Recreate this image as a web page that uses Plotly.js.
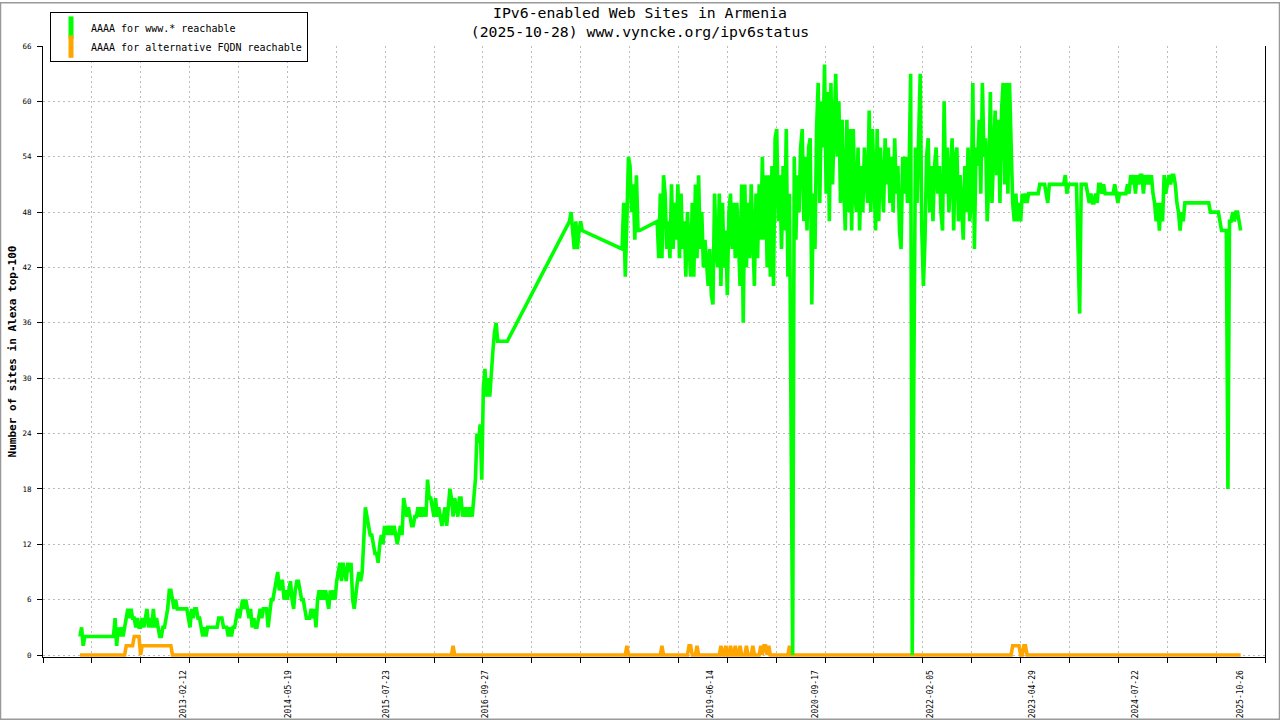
<!DOCTYPE html>
<html><head><meta charset="utf-8">
<script src="https://cdn.plot.ly/plotly-3.0.1.min.js"></script>
<style>html,body{margin:0;padding:0;background:#fff}#chart{width:1280px;height:720px}</style>
</head><body><div id="chart"></div>
<script>
// ---- data ----
const chartTitle = 'IPv6-enabled Web Sites in Armenia<br>(2025-10-28) www.vyncke.org/ipv6status';
const yTitle = 'Number of sites in Alexa top-100';
const seriesNames = ['AAAA for www.* reachable', 'AAAA for alternative FQDN reachable'];
const firstSample = '2011-11-15';   // date of sample index 0
const sampleStepDays = 7;           // one sample per week
// weekly samples: AAAA for www.* reachable (null = no data)
const wwwReachable = [
 2,3,1,2,2,2,2,2,2,2,
 2,2,2,2,2,2,2,2,2,2,
 2,2,4,1,3,2,3,2,3,4,
 5,4,5,4,4,3,4,3,3,4,
 3,4,5,3,4,3,5,3,4,3,
 2,2,3,3,4,5,7,7,6,5,
 6,5,5,5,5,5,5,5,4,3,
 5,4,5,5,4,4,3,2,3,2,
 3,3,3,3,3,3,3,4,4,4,
 3,3,3,2,3,2,3,3,4,5,
 4,5,6,5,6,5,4,5,3,4,
 3,3,4,5,4,5,5,5,3,5,
 6,6,7,8,9,7,8,8,6,7,
 6,7,8,6,5,7,8,8,7,6,
 6,5,4,4,4,5,4,5,3,6,
 7,6,7,6,7,6,5,7,6,7,
 6,8,9,10,8,10,9,8,10,9,
 10,6,5,7,8,9,8,9,13,16,
 15,14,13,13,12,11,11,10,12,13,
 12,14,13,14,13,14,13,14,13,12,
 13,14,13,17,16,15,16,15,14,14,
 15,15,16,15,16,15,16,15,19,17,
 17,16,15,17,15,16,15,14,15,16,
 14,16,18,17,15,17,16,15,17,17,
 15,16,15,16,15,16,15,17,19,24,
 23,25,19,29,31,28,30,28,31,33,
 35,36,34,34,34,34,34,34,34,null,
 null,null,null,null,null,null,null,null,null,null,
 null,null,null,null,null,null,null,null,null,null,
 null,null,null,null,null,null,null,null,null,null,
 null,null,null,null,null,null,null,47,48,46,
 44,47,44,46,47,46,null,null,null,null,
 null,null,null,null,null,null,null,null,null,null,
 null,null,null,null,null,null,null,null,null,null,
 44,49,41,47,54,53,48,51,45,52,
 46,46,null,null,null,null,null,null,null,null,
 null,null,47,43,50,43,52,50,44,47,
 43,51,44,49,45,51,43,50,44,47,
 41,48,44,41,49,41,51,43,52,44,
 48,42,45,43,40,44,39,38,50,44,
 42,50,40,49,42,46,39,48,50,44,
 49,43,49,45,40,51,36,51,42,49,
 43,51,45,40,50,43,51,45,54,45,
 52,42,52,41,53,40,56,57,47,52,
 44,53,46,57,41,50,25,0,54,45,
 52,48,55,57,47,54,46,55,56,38,
 50,44,57,62,49,60,55,64,50,61,
 47,62,51,58,63,54,60,49,58,51,
 46,58,48,57,46,57,50,48,55,46,
 53,48,55,52,49,59,48,57,50,46,
 57,47,55,51,48,56,51,55,49,54,
 48,56,50,53,46,44,54,50,54,49,
 52,63,0,30,55,49,56,63,46,40,
 45,54,56,48,53,47,53,55,50,53,
 48,46,60,50,55,48,52,56,46,54,
 55,47,52,49,45,53,48,55,47,49,
 62,44,55,53,58,50,62,54,56,47,
 51,61,49,54,59,52,58,49,59,62,
 51,62,50,62,55,49,47,50,47,49,
 47,50,49,50,49,50,50,50,50,50,
 50,50,51,51,51,51,50,49,51,51,
 51,51,51,51,51,51,51,51,52,50,
 51,51,51,51,51,51,44,37,51,51,
 51,51,50,49,50,49,49,50,49,51,
 51,50,51,50,50,50,50,50,50,51,
 50,49,50,50,50,50,50,51,50,52,
 51,52,50,52,51,52,52,50,52,51,
 52,51,52,50,49,47,49,46,49,47,
 52,50,51,52,51,52,52,51,49,48,
 46,48,47,49,49,49,49,49,49,49,
 49,49,49,49,49,49,49,49,49,48,
 48,48,48,48,48,47,46,46,46,46,
 18,47,47,48,47,48,48,47,46
];
// AAAA for alternative FQDN reachable: sample index -> value (change points)
const altIdx = [0,28,29,33,34,37,38,39,57,58,
 233,234,235, 342,343,344, 364,365,366, 381,382,383,384, 386,387,388,
 401,402,403, 404,405,406, 407,408,409, 410,411,412, 413,414,415,
 417,418,419, 421,422,423, 426,427,428,429,430,431,432,433,
 444,445,446, 584,585,589,590,591,592,593,594, 728];
const altVals = [0,0,1,1,2,2,0,1,1,0,
 0,1,0, 0,1,0, 0,1,0, 0,1,1,0, 0,1,0,
 0,1,0, 0,1,0, 0,1,0, 0,1,0, 0,1,0,
 0,1,0, 0,1,0, 0,1,0,1,1,0,1,0,
 0,1,0, 0,1,1,0,0,1,1,0, 0];
const xLabelDates = ['2013-02-12','2014-05-19','2015-07-23','2016-09-27','2019-06-14',
 '2020-09-17','2022-02-05','2023-04-29','2024-07-22','2025-10-26'];
const xLabelTexts = xLabelDates.slice();
const yTickVals = [0,6,12,18,24,30,36,42,48,54,60,66];
const yMax = 66;
const xRange = ['2011-06-05 13:00:00', '2026-02-11 19:00:00'];
const xDivisions = 25;

// ---- helpers ----
const DAY = 86400000;
const t0 = Date.parse(firstSample + 'T00:00:00Z');
function fmt(ms){ return new Date(ms).toISOString().slice(0,19).replace('T',' '); }
function idxDate(i){ return fmt(t0 + i * sampleStepDays * DAY); }

const wwwX = wwwReachable.map((v,i) => idxDate(i));
const altX = altIdx.map(idxDate);

const r0 = Date.parse(xRange[0].replace(' ','T') + 'Z');
const r1 = Date.parse(xRange[1].replace(' ','T') + 'Z');
const gridTicks = [];
for (let k = 0; k <= xDivisions; k++) gridTicks.push(fmt(r0 + k * (r1 - r0) / xDivisions));

const GREEN = '#00ff00', ORANGE = '#ffa500';
const MONO = 'DejaVu Sans Mono, Liberation Mono, monospace';

const M = {l:43, r:15, t:44, b:63};
const PW = 1280 - M.l - M.r, PH = 720 - M.t - M.b;
// keep the value 0 two pixels above the frame bottom so the zero line is not clipped
const pxPerUnit = (PH - 2) / yMax;
const yMin = -2 / pxPerUnit;

const traces = [
  {x: altX, y: altVals, type:'scatter', mode:'lines', line:{color:ORANGE, width:3.6},
   showlegend:false, hoverinfo:'skip'},
  {x: wwwX, y: wwwReachable, type:'scatter', mode:'lines', connectgaps:true,
   line:{color:GREEN, width:3.6}, showlegend:false, hoverinfo:'skip'},
  {x:[null], y:[null], type:'scatter', mode:'markers', name: seriesNames[0], xaxis:'x2',
   marker:{symbol:'line-ns-open', size:16, color:GREEN, line:{width:5, color:GREEN}}},
  {x:[null], y:[null], type:'scatter', mode:'markers', name: seriesNames[1], xaxis:'x2',
   marker:{symbol:'line-ns-open', size:16, color:ORANGE, line:{width:5, color:ORANGE}}}
];

const layout = {
  width:1280, height:720, autosize:false,
  margin:{l:M.l, r:M.r, t:M.t, b:M.b, pad:0},
  paper_bgcolor:'#fff', plot_bgcolor:'#fff',
  font:{family:MONO, color:'#000'},
  title:{text:chartTitle, x:0.5, xanchor:'center', xref:'container', y:1-18/720, yanchor:'top', yref:'container',
         font:{family:MONO, size:14.8, color:'#000'}},
  xaxis:{type:'date', range:xRange, tickmode:'array', tickvals:gridTicks, showticklabels:false,
         ticks:'outside', ticklen:5, tickcolor:'#000', tickwidth:1,
         showgrid:true, gridcolor:'#bbbbbb', griddash:'2px,3px', gridwidth:1,
         showline:true, linecolor:'#000', linewidth:1, zeroline:false, layer:'below traces', fixedrange:true},
  xaxis2:{type:'date', range:xRange, overlaying:'x', anchor:'y', side:'bottom',
          tickmode:'array', tickvals:xLabelDates, ticktext:xLabelTexts, tickangle:-90,
          ticks:'outside', ticklen:9, tickcolor:'rgba(0,0,0,0)', showticklabels:true,
          showgrid:false, showline:false, zeroline:false,
          tickfont:{family:MONO, size:8, color:'#000'}, fixedrange:true},
  yaxis:{range:[yMin, yMax], tickmode:'array', tickvals:yTickVals, ticks:'outside', ticklen:5, tickcolor:'#000',
         ticklabelstandoff:4,
         showgrid:true, gridcolor:'#bbbbbb', griddash:'2px,3px', gridwidth:1,
         showline:true, mirror:true, linecolor:'#000', linewidth:1, zeroline:false, layer:'below traces',
         tickfont:{family:MONO, size:7.5, color:'#000'},
         title:{text:'<b>'+yTitle+'</b>', standoff:3, font:{family:MONO, size:11, color:'#000'}}, fixedrange:true},
  legend:{x:(50-M.l)/PW, y:1+(M.t-10)/PH, xanchor:'left', yanchor:'top',
          bgcolor:'#fff', bordercolor:'#000', borderwidth:1,
          font:{family:MONO, size:10, color:'#000'}, tracegroupgap:0},
  shapes:[{type:'rect', xref:'paper', yref:'paper', x0:-M.l/PW+0.5/PW, x1:1+M.r/PW-0.5/PW,
           y0:-M.b/PH+0.5/PH, y1:1+M.t/PH-0.5/PH, line:{color:'#999', width:1.5}, fillcolor:'rgba(0,0,0,0)', layer:'below'}]
};

Plotly.newPlot('chart', traces, layout, {displayModeBar:false, staticPlot:true});
</script>
</body></html>
